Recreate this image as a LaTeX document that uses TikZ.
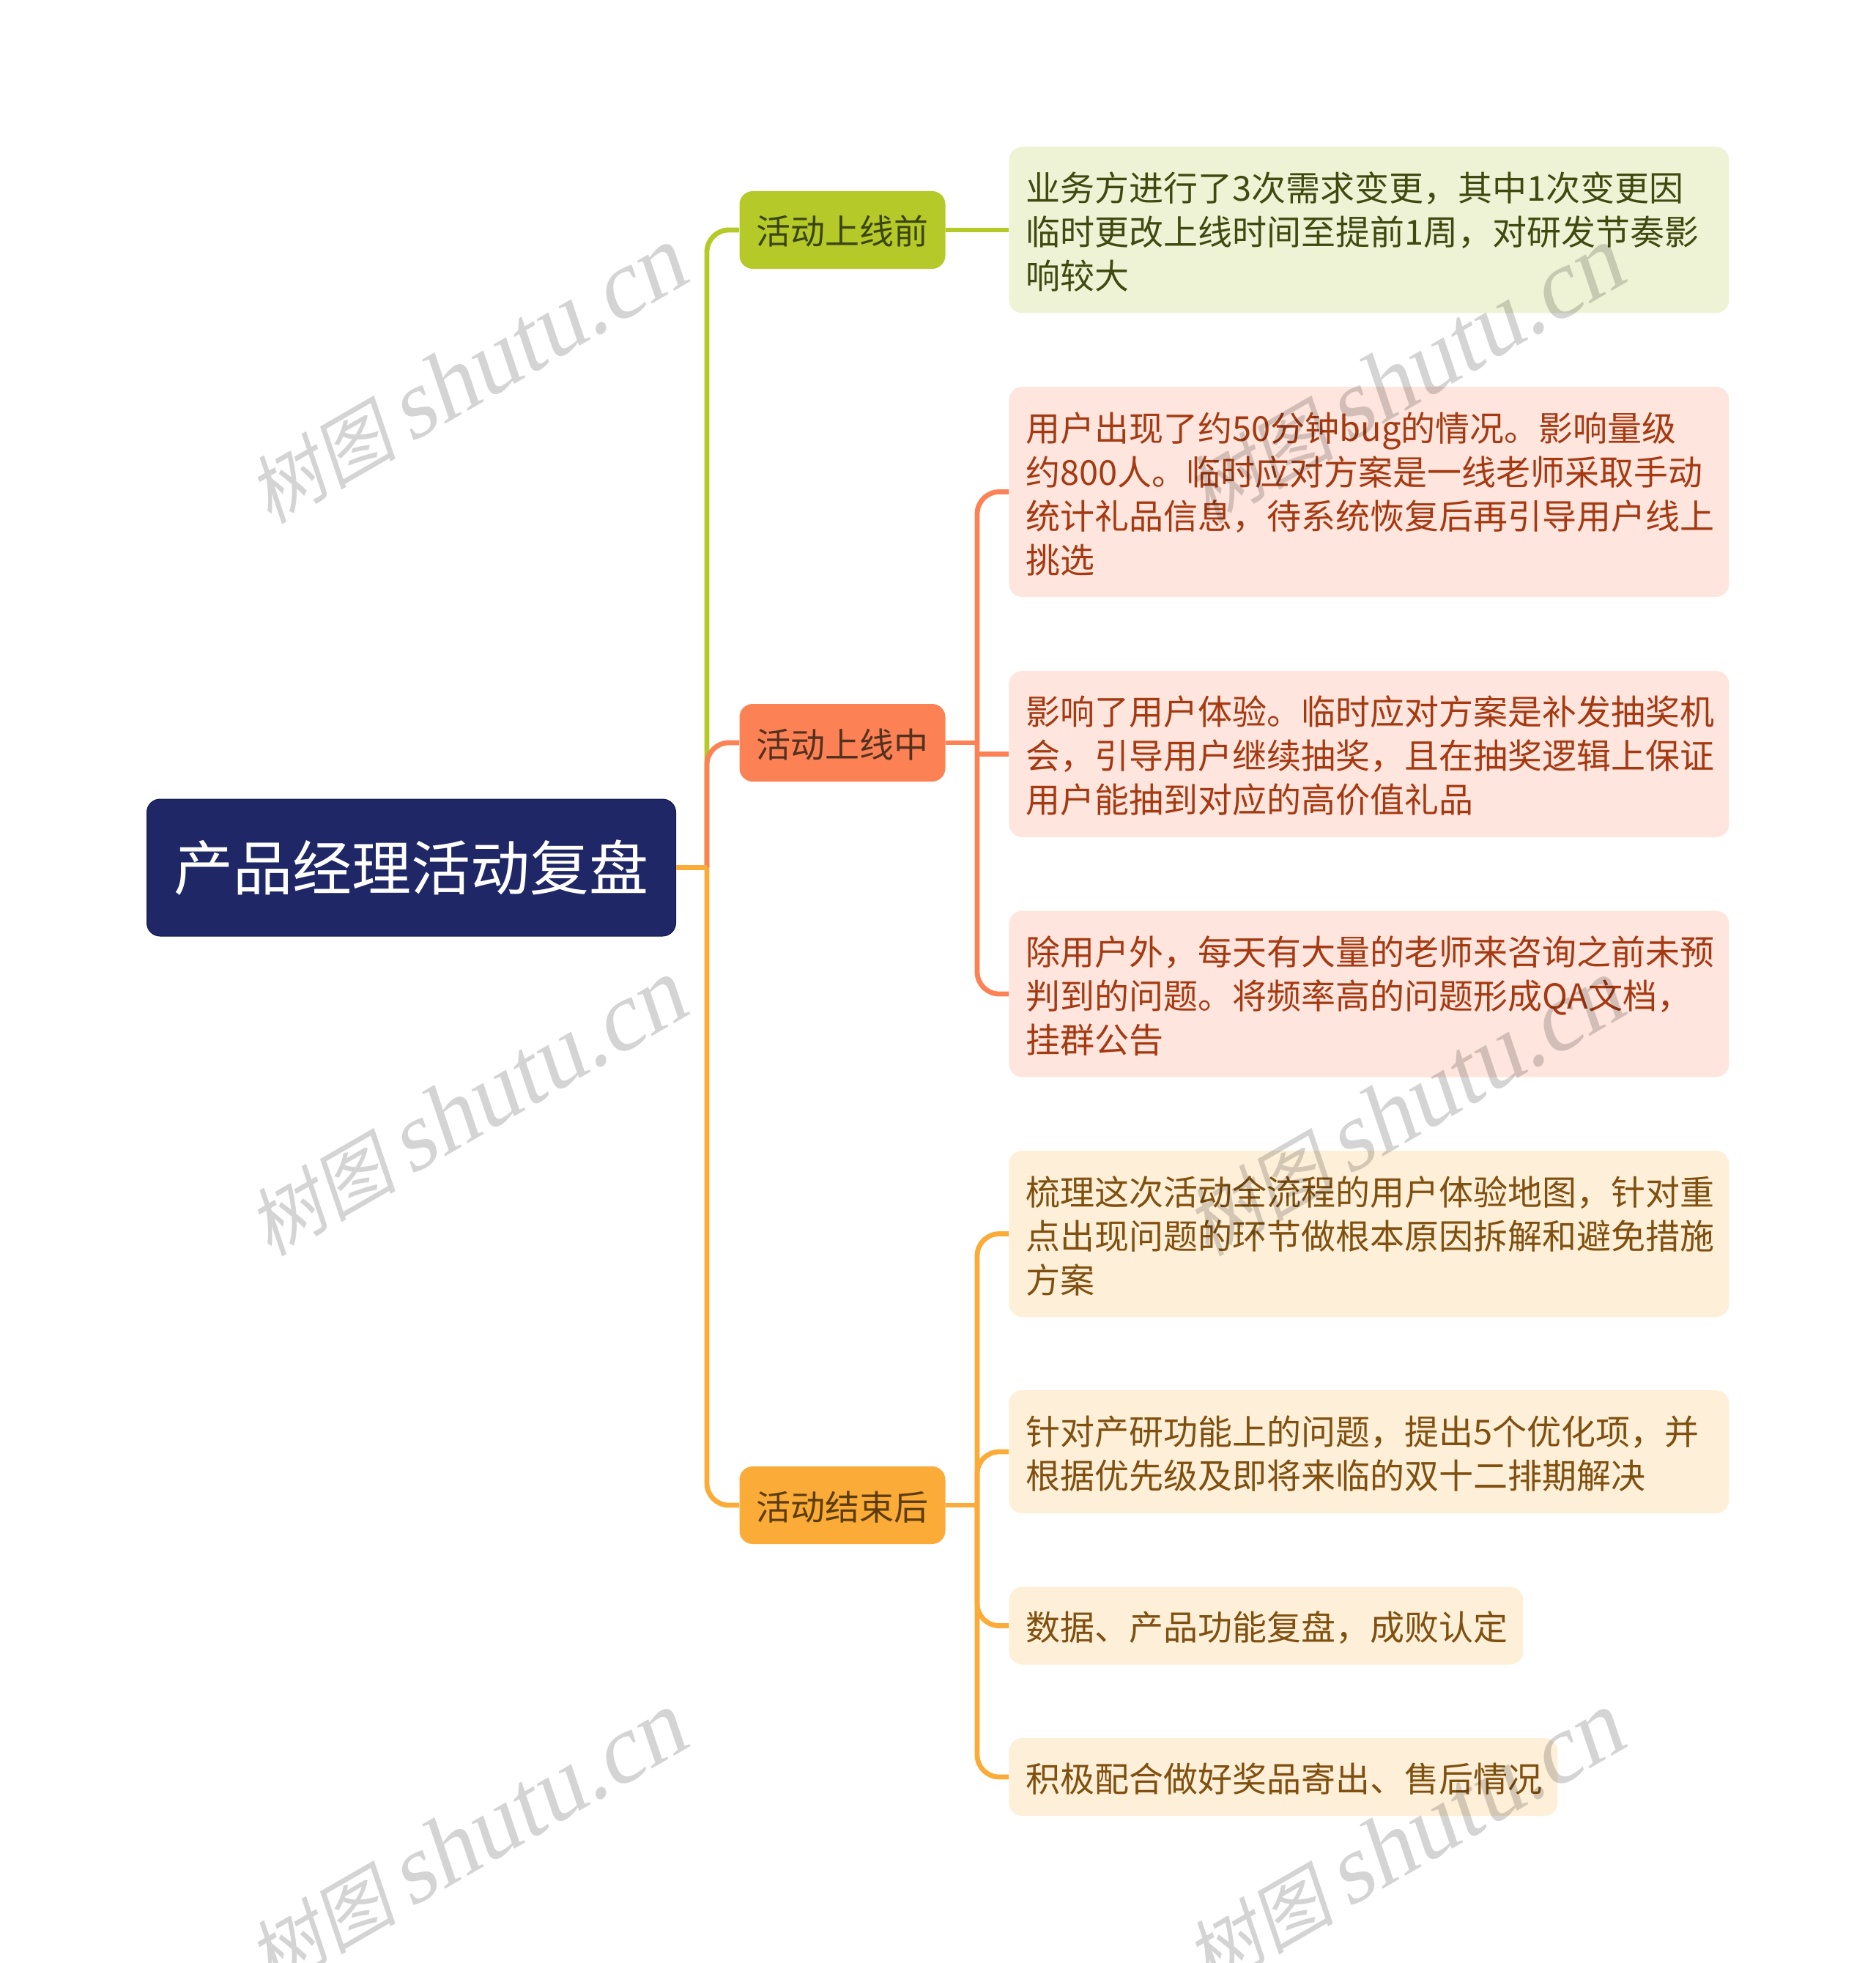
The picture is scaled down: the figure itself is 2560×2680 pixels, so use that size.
\documentclass[tikz,border=0pt]{standalone}
\usepackage{fontspec}
\setmainfont{Noto Sans CJK SC}
\newfontfamily\wmcjk{Noto Sans CJK SC}
\newfontfamily\wmlat{Liberation Serif}
\newcommand{\fc}{\char"FF0C\relax}
\definecolor{navy}{HTML}{1F2767}
\definecolor{navyb}{HTML}{14184F}
\definecolor{cg}{HTML}{B5C928}
\definecolor{cr}{HTML}{FC8255}
\definecolor{cy}{HTML}{FBAB37}
\definecolor{lg}{HTML}{EEF3D5}
\definecolor{lr}{HTML}{FEE5DD}
\definecolor{ly}{HTML}{FEEFD8}
\definecolor{tg}{HTML}{404A10}
\definecolor{tr}{HTML}{A53A12}
\definecolor{ty}{HTML}{7F500F}
\definecolor{btg}{HTML}{3B4510}
\definecolor{btr}{HTML}{54311F}
\definecolor{bty}{HTML}{5C3D0A}
\tikzset{
  x=0.5pt,y=-0.5pt,
  boxbase/.style={rectangle,rounded corners=9pt,inner sep=0pt,align=left},
  rootbox/.style={boxbase,fill=navy,draw=navyb,line width=.5pt,text=white,font=\fontsize{40.5pt}{48pt}\selectfont,minimum width=361pt,minimum height=93.5pt,align=center},
  branchbox/.style={boxbase,minimum width=140.5pt,minimum height=53pt,align=center,text height=21pt,text depth=1pt,font=\fontsize{23.5pt}{30pt}\selectfont},
  bg/.style={branchbox,fill=cg,text=btg},
  br/.style={branchbox,fill=cr,text=btr},
  by/.style={branchbox,fill=cy,text=bty},
  leafbase/.style={boxbase,anchor=west,font=\fontsize{23.5pt}{30pt}\selectfont},
  lowa/.style={execute at begin node={\rule{0pt}{22.5pt}}},
  lfg/.style={leafbase,fill=lg,text=tg},
  lfr/.style={leafbase,fill=lr,text=tr},
  lfy/.style={leafbase,fill=ly,text=ty},
  conn/.style={line width=3.4pt,rounded corners=15pt},
  straight/.style={line width=3.4pt},
  wm/.style={rotate=30,xslant=0.2,text=black,text opacity=0.17,inner sep=0pt},
}
\newcommand{\wmtext}{{\wmcjk\fontsize{51pt}{70pt}\selectfont 树图}\hspace{9pt}{\wmlat\fontsize{66pt}{70pt}\selectfont shutu.cn}}
\begin{document}
\begin{tikzpicture}
\useasboundingbox (0,0) rectangle (2560,2680);
\node[rootbox] (root) at (561.5,1184.5) {产品经理活动复盘};
\node[bg] (b1) at (1150,314) {活动上线前};
\node[br] (b2) at (1150,1014) {活动上线中};
\node[by] (b3) at (1150,2055) {活动结束后};
\node[lfg,lowa,minimum width=491.5pt,minimum height=113.5pt,text width=468.5pt] (l1) at (1377,314) {业务方进行了3次需求变更\fc 其中1次变更因\\临时更改上线时间至提前1周\fc 对研发节奏影\\响较大};
\node[lfr,lowa,minimum width=491.5pt,minimum height=143.5pt,text width=468.5pt] (l2a) at (1377,671.5) {用户出现了约50分钟bug的情况。影响量级\\约800人。临时应对方案是一线老师采取手动\\统计礼品信息\fc 待系统恢复后再引导用户线上\\挑选};
\node[lfr,lowa,minimum width=491.5pt,minimum height=113.5pt,text width=468.5pt] (l2b) at (1377,1029.5) {影响了用户体验。临时应对方案是补发抽奖机\\会\fc 引导用户继续抽奖\fc 且在抽奖逻辑上保证\\用户能抽到对应的高价值礼品};
\node[lfr,lowa,minimum width=491.5pt,minimum height=113.5pt,text width=468.5pt] (l2c) at (1377,1357) {除用户外\fc 每天有大量的老师来咨询之前未预\\判到的问题。将频率高的问题形成QA文档\fc\\挂群公告};
\node[lfy,lowa,minimum width=491.5pt,minimum height=113.5pt,text width=468.5pt] (l3a) at (1377,1684.5) {梳理这次活动全流程的用户体验地图\fc 针对重\\点出现问题的环节做根本原因拆解和避免措施\\方案};
\node[lfy,lowa,minimum width=491.5pt,minimum height=84pt,text width=468.5pt] (l3b) at (1377,1982) {针对产研功能上的问题\fc 提出5个优化项\fc 并\\根据优先级及即将来临的双十二排期解决};
\node[lfy,lowa,minimum width=351pt,minimum height=53pt,text width=328pt] (l3c) at (1377,2219.5) {数据、产品功能复盘\fc 成败认定};
\node[lfy,lowa,minimum width=374.5pt,minimum height=53pt,text width=351.5pt] (l3d) at (1377,2426) {积极配合做好奖品寄出、售后情况};
\coordinate (t) at (965,1184.5);
\coordinate (s2) at (1334,1014);
\coordinate (s3) at (1334,2055);
\draw[conn,cg] (t) |- (b1.west);
\draw[straight,cg] (b1.east) -- (l1.west);
\draw[conn,cr] (t) |- (b2.west);
\draw[conn,cy] (t) |- (b3.west);
\draw[straight,cy] (root.east) -- (t);
\draw[straight,cr] (b2.east) -- (s2);
\draw[conn,cr] (s2) |- (l2a.west);
\draw[straight,cr] (s2) -- (s2 |- l2b.west) -- (l2b.west);
\draw[conn,cr] (s2) |- (l2c.west);
\draw[straight,cy] (b3.east) -- (s3);
\draw[conn,cy] (s3) |- (l3a.west);
\draw[conn,cy] (s3) |- (l3b.west);
\draw[conn,cy] (s3) |- (l3c.west);
\draw[conn,cy] (s3) |- (l3d.west);
\node[wm] (w1) at (643,510) {\wmtext};
\node[wm] (w2) at (1923,510) {\wmtext};
\node[wm] (w3) at (643,1510) {\wmtext};
\node[wm] (w4) at (1923,1510) {\wmtext};
\node[wm] (w5) at (643,2510) {\wmtext};
\node[wm] (w6) at (1923,2510) {\wmtext};
\end{tikzpicture}
\end{document}
